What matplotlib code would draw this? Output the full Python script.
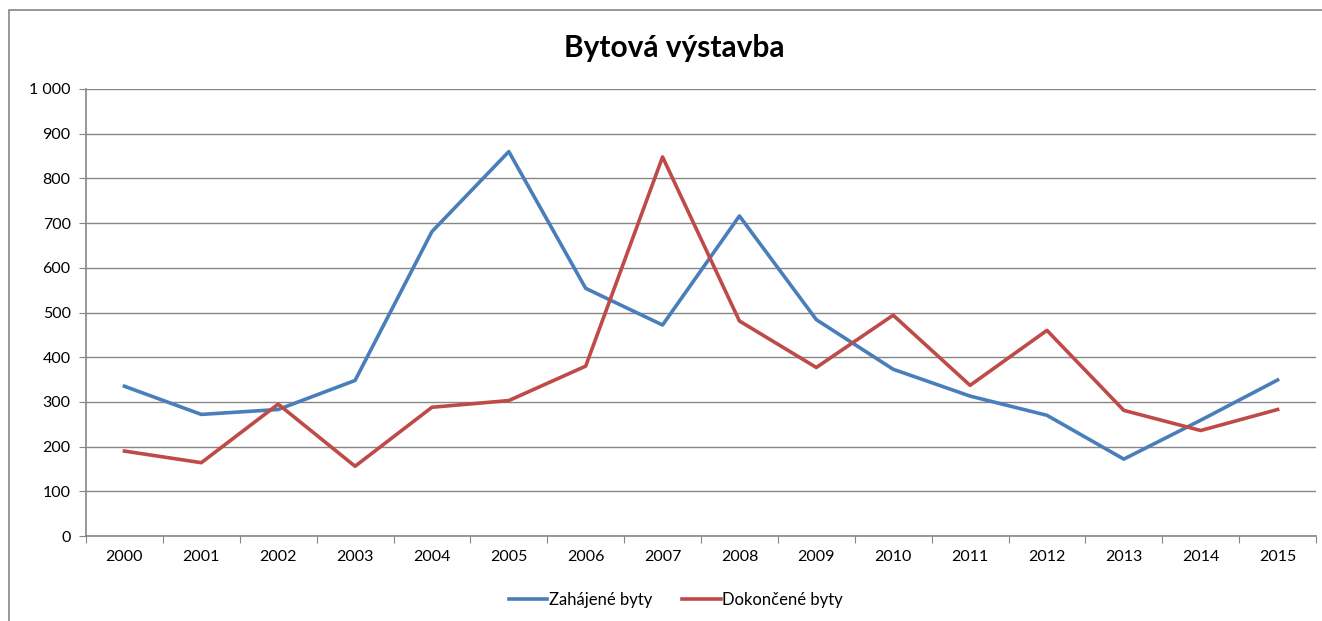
import matplotlib.pyplot as plt
from matplotlib.patches import Rectangle
from matplotlib.ticker import FuncFormatter, FixedLocator, NullFormatter

years = [str(y) for y in range(2000, 2016)]
zahajene = [335, 272, 283, 348, 681, 860, 554, 472, 716, 484, 373, 313, 270, 172, 259, 349]
dokoncene = [190, 164, 295, 156, 288, 303, 380, 848, 481, 377, 494, 337, 460, 281, 236, 283]

plt.rcParams['font.family'] = ['Lato', 'DejaVu Sans']

fig = plt.figure(figsize=(13.22, 6.21), dpi=100)
ax = fig.add_axes([86 / 1322, 1 - 536 / 621, (1316 - 86) / 1322, (536 - 89) / 621])

x = list(range(len(years)))
ax.plot(x, zahajene, color='#4A7EBB', lw=2.6, label='Zahájené byty')
ax.plot(x, dokoncene, color='#BE4B48', lw=2.6, label='Dokončené byty')

ax.set_xlim(-0.5, len(years) - 0.5)
ax.set_ylim(0, 1000)
ax.set_yticks(range(0, 1001, 100))
ax.yaxis.set_major_formatter(FuncFormatter(lambda v, p: f'{int(v):,}'.replace(',', ' ')))
ax.grid(axis='y', color='#868686', lw=1)
ax.set_axisbelow(True)

# category ticks between labels, labels at centers
ax.xaxis.set_major_locator(FixedLocator([i - 0.5 for i in range(len(years) + 1)]))
ax.xaxis.set_major_formatter(NullFormatter())
ax.xaxis.set_minor_locator(FixedLocator(x))
ax.set_xticklabels(years, minor=True)
ax.tick_params(axis='x', which='major', length=5, color='#868686', direction='out')
ax.tick_params(axis='x', which='minor', length=0, pad=10, labelsize=11.5)
ax.tick_params(axis='y', length=5, color='#868686', labelsize=11.5, pad=6)

for s in ['top', 'right']:
    ax.spines[s].set_visible(False)
for s in ['left', 'bottom']:
    ax.spines[s].set_color('#868686')
    ax.spines[s].set_linewidth(1.2)

fig.text(674 / 1322, 1 - 48 / 621, 'Bytová výstavba', ha='center', va='center',
         fontsize=21.5, fontweight='bold')

ax.legend(loc='center', bbox_to_anchor=(676 / 1322, 1 - 600 / 621), bbox_transform=fig.transFigure,
          ncol=2, frameon=False, fontsize=12, handlelength=2.3, handletextpad=0.1, columnspacing=1.8)

fig.patches.append(Rectangle((9 / 1322, -0.1), 1.2, 1 - 10 / 621 + 0.1, transform=fig.transFigure,
                             fill=False, edgecolor='#868686', lw=1.2, clip_on=False))

fig.savefig('out.png', dpi=100)
